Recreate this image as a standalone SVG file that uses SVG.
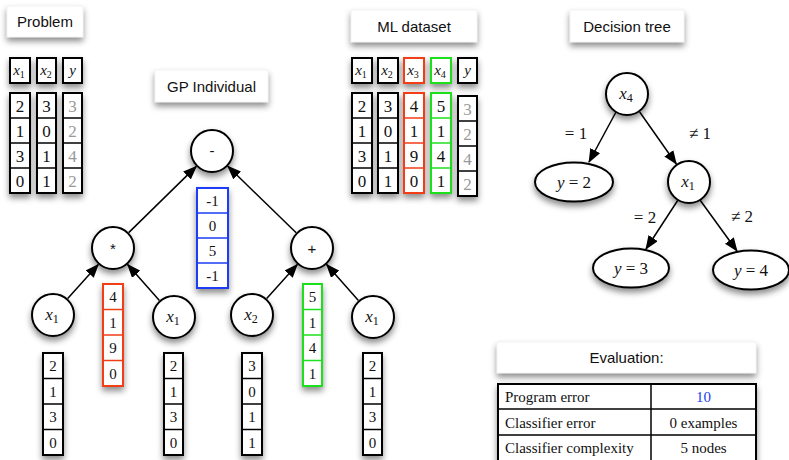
<svg xmlns="http://www.w3.org/2000/svg" width="789" height="460" viewBox="0 0 789 460">
<defs>
<filter id="sh" x="-40%" y="-40%" width="180%" height="190%">
<feDropShadow dx="0" dy="4" stdDeviation="3" flood-color="#000" flood-opacity="0.45"/>
</filter>
<marker id="ah" markerWidth="14" markerHeight="11" refX="13" refY="5.5" orient="auto" markerUnits="userSpaceOnUse">
<path d="M0,0 L14,5.5 L0,11 z" fill="#000"/>
</marker>
</defs>
<style>
.lbl rect{fill:#fff;stroke:#e8e8e8;stroke-width:0.5;filter:url(#sh)}
.sans{font-family:"Liberation Sans",Arial,sans-serif;font-size:15px;fill:#111;text-anchor:middle}
.ser{font-family:"Liberation Serif","Times New Roman",serif;fill:#111;text-anchor:middle}
.n{font-size:17px}
.s{font-size:15px}
.m{font-size:17px}
.i{font-style:italic}
.g{fill:#999}
.cell{fill:#fff;stroke:#000;stroke-width:2;filter:url(#sh)}
.div{stroke:#000;stroke-width:1.5}
.red{fill:#fff;stroke:#f23c17;stroke-width:2;filter:url(#sh)}
.redd{stroke:#f23c17;stroke-width:1.5}
.grn{fill:#fff;stroke:#1ee01e;stroke-width:2;filter:url(#sh)}
.grnd{stroke:#1ee01e;stroke-width:1.5}
.blu{fill:#fff;stroke:#1a3cf5;stroke-width:2;filter:url(#sh)}
.blud{stroke:#1a3cf5;stroke-width:1.5}
.nd{fill:#fff;stroke:#000;stroke-width:2;filter:url(#sh)}
.edge{stroke:#000;stroke-width:1.5;fill:none;marker-end:url(#ah)}
.tab{fill:#fff;stroke:#000;stroke-width:2;filter:url(#sh)}
.tt{font-family:"Liberation Serif","Times New Roman",serif;font-size:15px;fill:#111}
.tc{text-anchor:middle}
.bl{fill:#1a3cf5}
</style>

<!-- Labels -->
<g id="label-problem" class="lbl"><rect x="7" y="6" width="76" height="31"/><text class="sans" x="45" y="27">Problem</text></g>
<g id="label-gp" class="lbl"><rect x="155" y="70" width="113" height="32"/><text class="sans" x="211.5" y="91.5">GP Individual</text></g>
<g id="label-ml" class="lbl"><rect x="351" y="10" width="126" height="32"/><text class="sans" x="414" y="31.5">ML dataset</text></g>
<g id="label-dt" class="lbl"><rect x="570" y="10" width="114" height="32"/><text class="sans" x="627" y="31.5">Decision tree</text></g>
<g id="label-eval" class="lbl"><rect x="497" y="342" width="259" height="31"/><text class="sans" x="626.5" y="363">Evaluation:</text></g>

<!-- Problem table -->
<g id="problem">
<rect class="cell" x="10" y="58" width="20" height="25"/>
<text class="ser s" x="19" y="75"><tspan class="i">x</tspan><tspan font-size="10" dy="3">1</tspan></text>
<rect class="cell" x="37" y="58" width="19" height="25"/>
<text class="ser s" x="46" y="75"><tspan class="i">x</tspan><tspan font-size="10" dy="3">2</tspan></text>
<rect class="cell" x="63" y="58" width="19" height="25"/>
<text class="ser s i" x="72.5" y="75">y</text>

<rect class="cell" x="10" y="93" width="20" height="100"/>
<line class="div" x1="10" y1="118" x2="30" y2="118"/><line class="div" x1="10" y1="143" x2="30" y2="143"/><line class="div" x1="10" y1="168" x2="30" y2="168"/>
<text class="ser n" x="20" y="111.5">2</text><text class="ser n" x="20" y="136.5">1</text><text class="ser n" x="20" y="161.5">3</text><text class="ser n" x="20" y="186.5">0</text>

<rect class="cell" x="37" y="93" width="19" height="100"/>
<line class="div" x1="37" y1="118" x2="56" y2="118"/><line class="div" x1="37" y1="143" x2="56" y2="143"/><line class="div" x1="37" y1="168" x2="56" y2="168"/>
<text class="ser n" x="46.5" y="111.5">3</text><text class="ser n" x="46.5" y="136.5">0</text><text class="ser n" x="46.5" y="161.5">1</text><text class="ser n" x="46.5" y="186.5">1</text>

<rect class="cell" x="63" y="93" width="19" height="100"/>
<line class="div" x1="63" y1="118" x2="82" y2="118"/><line class="div" x1="63" y1="143" x2="82" y2="143"/><line class="div" x1="63" y1="168" x2="82" y2="168"/>
<text class="ser n g" x="72.5" y="111.5">3</text><text class="ser n g" x="72.5" y="136.5">2</text><text class="ser n g" x="72.5" y="161.5">4</text><text class="ser n g" x="72.5" y="186.5">2</text>
</g>

<!-- ML dataset -->
<g id="ml-dataset">
<rect class="cell" x="352" y="58" width="20" height="25"/>
<text class="ser s" x="361" y="75"><tspan class="i">x</tspan><tspan font-size="10" dy="3">1</tspan></text>
<rect class="cell" x="378" y="58" width="20" height="25"/>
<text class="ser s" x="387" y="75"><tspan class="i">x</tspan><tspan font-size="10" dy="3">2</tspan></text>
<rect class="red" x="404" y="58" width="20" height="25"/>
<text class="ser s" x="413" y="75"><tspan class="i">x</tspan><tspan font-size="10" dy="3">3</tspan></text>
<rect class="grn" x="431" y="58" width="20" height="25"/>
<text class="ser s" x="440" y="75"><tspan class="i">x</tspan><tspan font-size="10" dy="3">4</tspan></text>
<rect class="cell" x="458" y="58" width="19" height="25"/>
<text class="ser s i" x="467.5" y="75">y</text>

<rect class="cell" x="352" y="93" width="20" height="100"/>
<line class="div" x1="352" y1="118" x2="372" y2="118"/><line class="div" x1="352" y1="143" x2="372" y2="143"/><line class="div" x1="352" y1="168" x2="372" y2="168"/>
<text class="ser n" x="362" y="111.5">2</text><text class="ser n" x="362" y="136.5">1</text><text class="ser n" x="362" y="161.5">3</text><text class="ser n" x="362" y="186.5">0</text>

<rect class="cell" x="378" y="93" width="20" height="100"/>
<line class="div" x1="378" y1="118" x2="398" y2="118"/><line class="div" x1="378" y1="143" x2="398" y2="143"/><line class="div" x1="378" y1="168" x2="398" y2="168"/>
<text class="ser n" x="388" y="111.5">3</text><text class="ser n" x="388" y="136.5">0</text><text class="ser n" x="388" y="161.5">1</text><text class="ser n" x="388" y="186.5">1</text>

<rect class="red" x="404" y="93" width="20" height="100"/>
<line class="redd" x1="404" y1="118" x2="424" y2="118"/><line class="redd" x1="404" y1="143" x2="424" y2="143"/><line class="redd" x1="404" y1="168" x2="424" y2="168"/>
<text class="ser n" x="414" y="111.5">4</text><text class="ser n" x="414" y="136.5">1</text><text class="ser n" x="414" y="161.5">9</text><text class="ser n" x="414" y="186.5">0</text>

<rect class="grn" x="431" y="93" width="20" height="100"/>
<line class="grnd" x1="431" y1="118" x2="451" y2="118"/><line class="grnd" x1="431" y1="143" x2="451" y2="143"/><line class="grnd" x1="431" y1="168" x2="451" y2="168"/>
<text class="ser n" x="441" y="111.5">5</text><text class="ser n" x="441" y="136.5">1</text><text class="ser n" x="441" y="161.5">4</text><text class="ser n" x="441" y="186.5">1</text>

<rect class="cell" x="458" y="96" width="19" height="100"/>
<line class="div" x1="458" y1="121" x2="477" y2="121"/><line class="div" x1="458" y1="146" x2="477" y2="146"/><line class="div" x1="458" y1="171" x2="477" y2="171"/>
<text class="ser n g" x="467.5" y="114.5">3</text><text class="ser n g" x="467.5" y="139.5">2</text><text class="ser n g" x="467.5" y="164.5">4</text><text class="ser n g" x="467.5" y="189.5">2</text>
</g>

<!-- GP tree connectors -->
<g id="gp-connectors">
<line class="edge" x1="128.7" y1="232.6" x2="196.3" y2="166.4"/>
<line class="edge" x1="296.2" y1="232.7" x2="227.8" y2="166.3"/>
<line class="edge" x1="67.7" y1="298.6" x2="98.3" y2="264.4"/>
<line class="edge" x1="159.4" y1="300.5" x2="127.6" y2="264.5"/>
<line class="edge" x1="266.7" y1="298.6" x2="297.3" y2="264.4"/>
<line class="edge" x1="358.4" y1="300.5" x2="326.6" y2="264.5"/>
</g>

<!-- GP nodes -->
<g id="gp-minus"><circle class="nd" cx="212" cy="151" r="21"/><text class="sans" x="212" y="156">-</text></g>
<g id="gp-minus-values">
<rect class="blu" x="197" y="188" width="31" height="100"/>
<line class="blud" x1="197" y1="213" x2="228" y2="213"/><line class="blud" x1="197" y1="238" x2="228" y2="238"/><line class="blud" x1="197" y1="263" x2="228" y2="263"/>
<text class="ser s" x="212.5" y="206">-1</text><text class="ser s" x="212.5" y="231">0</text><text class="ser s" x="212.5" y="256">5</text><text class="ser s" x="212.5" y="281">-1</text>
</g>

<g id="gp-times"><circle class="nd" cx="113" cy="248" r="21"/><text class="sans" x="113" y="254">*</text></g>
<g id="gp-times-values">
<rect class="red" x="103" y="284" width="20" height="102"/>
<line class="redd" x1="103" y1="309.5" x2="123" y2="309.5"/><line class="redd" x1="103" y1="335" x2="123" y2="335"/><line class="redd" x1="103" y1="360.5" x2="123" y2="360.5"/>
<text class="ser s" x="113" y="302">4</text><text class="ser s" x="113" y="327.5">1</text><text class="ser s" x="113" y="353">9</text><text class="ser s" x="113" y="378.5">0</text>
</g>

<g id="gp-plus"><circle class="nd" cx="312" cy="248" r="21"/><text class="sans" x="312" y="253.5">+</text></g>
<g id="gp-plus-values">
<rect class="grn" x="303" y="284" width="19" height="102"/>
<line class="grnd" x1="303" y1="309.5" x2="322" y2="309.5"/><line class="grnd" x1="303" y1="335" x2="322" y2="335"/><line class="grnd" x1="303" y1="360.5" x2="322" y2="360.5"/>
<text class="ser s" x="312.5" y="302">5</text><text class="ser s" x="312.5" y="327.5">1</text><text class="ser s" x="312.5" y="353">4</text><text class="ser s" x="312.5" y="378.5">1</text>
</g>

<g id="gp-leaf-x1a"><circle class="nd" cx="53" cy="315" r="21"/><text class="ser m" x="52" y="320"><tspan class="i">x</tspan><tspan font-size="12" dy="3">1</tspan></text></g>
<g id="gp-leaf-x1a-values">
<rect class="cell" x="43" y="353" width="20" height="102"/>
<line class="div" x1="43" y1="378.5" x2="63" y2="378.5"/><line class="div" x1="43" y1="404" x2="63" y2="404"/><line class="div" x1="43" y1="429.5" x2="63" y2="429.5"/>
<text class="ser s" x="53" y="371">2</text><text class="ser s" x="53" y="396.5">1</text><text class="ser s" x="53" y="422">3</text><text class="ser s" x="53" y="447.5">0</text>
</g>

<g id="gp-leaf-x1b"><circle class="nd" cx="174" cy="317" r="21"/><text class="ser m" x="173" y="322"><tspan class="i">x</tspan><tspan font-size="12" dy="3">1</tspan></text></g>
<g id="gp-leaf-x1b-values">
<rect class="cell" x="164" y="353" width="19" height="102"/>
<line class="div" x1="164" y1="378.5" x2="183" y2="378.5"/><line class="div" x1="164" y1="404" x2="183" y2="404"/><line class="div" x1="164" y1="429.5" x2="183" y2="429.5"/>
<text class="ser s" x="173.5" y="371">2</text><text class="ser s" x="173.5" y="396.5">1</text><text class="ser s" x="173.5" y="422">3</text><text class="ser s" x="173.5" y="447.5">0</text>
</g>

<g id="gp-leaf-x2"><circle class="nd" cx="252" cy="315" r="21"/><text class="ser m" x="251" y="320"><tspan class="i">x</tspan><tspan font-size="12" dy="3">2</tspan></text></g>
<g id="gp-leaf-x2-values">
<rect class="cell" x="242" y="353" width="20" height="102"/>
<line class="div" x1="242" y1="378.5" x2="262" y2="378.5"/><line class="div" x1="242" y1="404" x2="262" y2="404"/><line class="div" x1="242" y1="429.5" x2="262" y2="429.5"/>
<text class="ser s" x="252" y="371">3</text><text class="ser s" x="252" y="396.5">0</text><text class="ser s" x="252" y="422">1</text><text class="ser s" x="252" y="447.5">1</text>
</g>

<g id="gp-leaf-x1c"><circle class="nd" cx="373" cy="317" r="21"/><text class="ser m" x="372" y="322"><tspan class="i">x</tspan><tspan font-size="12" dy="3">1</tspan></text></g>
<g id="gp-leaf-x1c-values">
<rect class="cell" x="363" y="353" width="19" height="102"/>
<line class="div" x1="363" y1="378.5" x2="382" y2="378.5"/><line class="div" x1="363" y1="404" x2="382" y2="404"/><line class="div" x1="363" y1="429.5" x2="382" y2="429.5"/>
<text class="ser s" x="372.5" y="371">2</text><text class="ser s" x="372.5" y="396.5">1</text><text class="ser s" x="372.5" y="422">3</text><text class="ser s" x="372.5" y="447.5">0</text>
</g>

<!-- Decision tree connectors -->
<g id="dt-connectors">
<line class="edge" x1="616" y1="112" x2="589" y2="162"/>
<line class="edge" x1="639.7" y1="112" x2="676.3" y2="164"/>
<line class="edge" x1="678" y1="200" x2="646" y2="249"/>
<line class="edge" x1="700" y1="200" x2="737" y2="251"/>
<text class="ser m" x="576" y="139">= 1</text>
<text class="ser m" x="700" y="139">≠ 1</text>
<text class="ser m" x="645" y="223">= 2</text>
<text class="ser m" x="742" y="222">≠ 2</text>
</g>

<!-- Decision tree nodes -->
<g id="dt-x4"><circle class="nd" cx="627" cy="94" r="21"/><text class="ser m" x="626" y="99"><tspan class="i">x</tspan><tspan font-size="12" dy="3">4</tspan></text></g>
<g id="dt-y2"><ellipse class="nd" cx="574" cy="182" rx="39" ry="19.5"/><text class="ser m" x="574" y="188"><tspan class="i">y</tspan> = 2</text></g>
<g id="dt-x1"><circle class="nd" cx="689" cy="182" r="21"/><text class="ser m" x="688" y="187"><tspan class="i">x</tspan><tspan font-size="12" dy="3">1</tspan></text></g>
<g id="dt-y3"><ellipse class="nd" cx="631" cy="268" rx="38" ry="19.5"/><text class="ser m" x="631" y="274"><tspan class="i">y</tspan> = 3</text></g>
<g id="dt-y4"><ellipse class="nd" cx="751" cy="270" rx="38" ry="19.5"/><text class="ser m" x="751" y="276"><tspan class="i">y</tspan> = 4</text></g>

<!-- Evaluation table -->
<g id="evaluation">
<rect class="tab" x="498" y="384" width="258" height="78"/>
<line class="div" x1="498" y1="409" x2="756" y2="409"/>
<line class="div" x1="498" y1="435" x2="756" y2="435"/>
<line class="div" x1="651" y1="384" x2="651" y2="462"/>
<text class="tt" x="505" y="402">Program error</text>
<text class="tt tc bl" x="703.5" y="402">10</text>
<text class="tt" x="505" y="428">Classifier error</text>
<text class="tt tc" x="703.5" y="428">0 examples</text>
<text class="tt" x="505" y="453">Classifier complexity</text>
<text class="tt tc" x="703.5" y="453">5 nodes</text>
</g>
</svg>
